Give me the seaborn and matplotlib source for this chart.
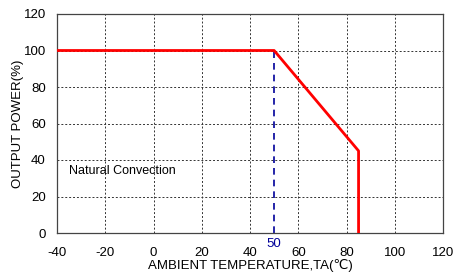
import numpy as np
import matplotlib
matplotlib.use("Agg")
import matplotlib.pyplot as plt
import seaborn as sns
import pandas as pd

# derating curve
temp = [-40, 50, 85, 85]
power = [100, 100, 45, 0]
knee_x = [50, 50]
knee_y = [0, 100]
xticks = [-40, -20, 0, 20, 40, 60, 80, 100, 120]
yticks = [0, 20, 40, 60, 80, 100, 120]

sns.set_style("white")
plt.rcParams['font.family'] = ['Liberation Sans', 'DejaVu Sans']
plt.rcParams['axes.unicode_minus'] = False
plt.rcParams['text.color'] = 'black'
plt.rcParams['xtick.color'] = 'black'
plt.rcParams['ytick.color'] = 'black'
plt.rcParams['axes.labelcolor'] = 'black'

fig = plt.figure(figsize=(4.54, 2.74), dpi=100)
ax = fig.add_axes([57/454, 1-233/274, (443-57)/454, (233-14)/274])

df = pd.DataFrame({'temp': temp, 'power': power})
sns.lineplot(data=df, x='temp', y='power', sort=False, estimator=None,
             color='#ff0000', linewidth=2, ax=ax, zorder=3)
sns.lineplot(x=knee_x, y=knee_y, sort=False, estimator=None, color='#000099',
             linestyle=(0, (4, 3)), linewidth=1.2, ax=ax, zorder=2)

ax.set_xlim(-40, 120)
ax.set_ylim(0, 120)
ax.set_xticks(xticks)
ax.set_yticks(yticks)
ax.tick_params(labelsize=9.5, length=0, pad=10)
ax.tick_params(axis='y', pad=8)
ax.grid(True, color='#333333', linestyle=(0, (2, 2)), linewidth=0.7)
for s in ax.spines.values():
    s.set_color('#444444')
    s.set_linewidth(0.9)

ax.text(-35, 34, 'Natural Convection', fontsize=9, va='center')
ax.text(50, -3, '50', color='#000099', fontsize=9.5, ha='center', va='top')

ax.set_xlabel('AMBIENT TEMPERATURE,TA(℃)', fontsize=9.5, labelpad=0)
ax.set_ylabel('OUTPUT POWER(%)', fontsize=9.5)
ax.yaxis.set_label_coords(-0.085, 0.5)

fig.savefig('out.png', dpi=100)
